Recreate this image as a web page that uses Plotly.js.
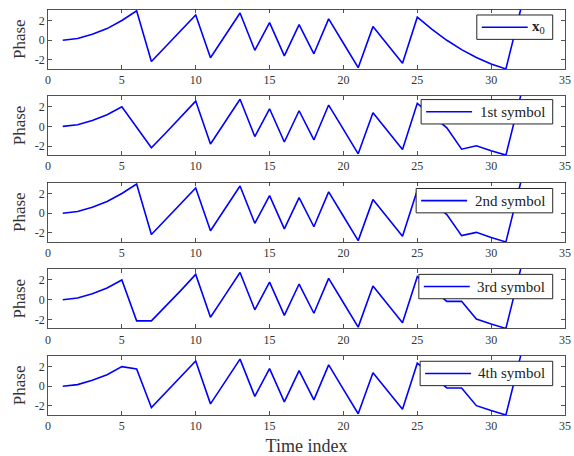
<!DOCTYPE html>
<html>
<head>
<meta charset="utf-8">
<script src="https://cdn.plot.ly/plotly-3.0.1.min.js"></script>
<style>html,body{margin:0;padding:0;background:#fff;}#chart{width:574px;height:456px;}</style>
</head>
<body>
<div id="chart"></div>
<script>
// ---- data ----
const timeIndex = [1,2,3,4,5,6,7,8,9,10,11,12,13,14,15,16,17,18,19,20,21,22,23,24,25,26,27,28,29,30,31,32];
const phaseX0   = [0,0.17,0.6,1.18,2.0,2.98,-2.17,-0.62,0.95,2.57,-1.79,0.49,2.76,-1.03,1.79,-1.59,1.59,-1.38,2.17,-0.31,-2.79,1.38,-0.48,-2.34,2.34,1.09,-0.01,-0.96,-1.76,-2.41,-2.92,3.12];
const phaseSym1 = [0,0.17,0.6,1.18,2.0,-0.06,-2.17,-0.62,0.95,2.57,-1.79,0.49,2.76,-1.03,1.79,-1.59,1.59,-1.38,2.17,-0.31,-2.79,1.38,-0.48,-2.34,2.34,1.09,-0.15,-2.32,-1.97,-2.47,-2.92,3.12];
const phaseSym2 = [0,0.17,0.6,1.18,2.0,2.96,-2.17,-0.62,0.95,2.57,-1.79,0.49,2.76,-1.03,1.79,-1.59,1.59,-1.38,2.17,-0.31,-2.79,1.38,-0.48,-2.34,2.34,1.09,-0.15,-2.28,-1.95,-2.47,-2.92,3.12];
const phaseSym3 = [0,0.17,0.6,1.18,2.0,-2.15,-2.15,-0.62,0.95,2.57,-1.79,0.49,2.76,-1.03,1.79,-1.59,1.59,-1.38,2.17,-0.31,-2.79,1.38,-0.48,-2.34,2.34,1.09,-0.17,-0.17,-1.97,-2.47,-2.92,3.12];
const phaseSym4 = [0,0.17,0.6,1.18,2.0,1.76,-2.17,-0.62,0.95,2.57,-1.79,0.49,2.76,-1.03,1.79,-1.59,1.59,-1.38,2.17,-0.31,-2.79,1.38,-0.48,-2.34,2.34,1.09,-0.17,-0.17,-1.97,-2.47,-2.92,3.12];
const seriesNames = ['<b>x</b><sub>0</sub>','1st symbol','2nd symbol','3rd symbol','4th symbol'];
const xTickVals = [0,5,10,15,20,25,30,35];
const yTickVals = [-2,0,2];
const yTickText = ['-2','0','2'];
const yTitle = 'Phase';
const xTitle = 'Time index';

// ---- layout ----
const W = 574, H = 456;
const mT = 9, mB = 40.5, mL = 47.5, mR = 9;
const PH = H - mT - mB, PW = W - mL - mR;
const FONT = 'Liberation Serif, Times New Roman, serif';
const AX = '#262626';
const BLUE = '#0000ff';
const allSeries = [phaseX0, phaseSym1, phaseSym2, phaseSym3, phaseSym4];
const tops = [9.5, 95.8, 182.7, 269.3, 356];
const panelH = 59.5;
const toPaperY = p => (H - mB - p) / PH;
const toPaperX = p => (p - mL) / PW;

// legend boxes (pixel layout)
const legLeft = [476.7, 421, 416, 418.7, 420];
const legRight = 552.7;
const legTop = [15, 99.7, 188.7, 274.7, 361.7];
const legH = 24.4;

const data = [];
const shapes = [];
const annotations = [];
const layout = {
  width: W, height: H,
  margin: {l: mL, r: mR, t: mT, b: mB, pad: 0},
  paper_bgcolor: '#fff', plot_bgcolor: '#fff',
  font: {family: FONT, color: AX},
  showlegend: false
};
allSeries.forEach((ys, k) => {
  const n = k === 0 ? '' : String(k + 1);
  data.push({
    x: timeIndex, y: ys, type: 'scatter', mode: 'lines',
    name: seriesNames[k],
    line: {color: BLUE, width: 1.6},
    xaxis: 'x' + n, yaxis: 'y' + n
  });
  const top = tops[k], bot = top + panelH;
  const xa = {
    domain: [0, 1], anchor: 'y' + n, range: [0, 35],
    tickvals: xTickVals, ticks: 'inside', ticklen: 4, tickwidth: 0.8, tickcolor: AX,
    mirror: 'ticks', showline: true, linecolor: AX, linewidth: 0.8,
    showgrid: false, zeroline: false,
    tickfont: {family: FONT, size: 12, color: '#333'}
  };
  if (k === 4) xa.title = {text: xTitle, font: {family: FONT, size: 18, color: '#333'}, standoff: 8};
  layout['xaxis' + n] = xa;
  layout['yaxis' + n] = {
    domain: [toPaperY(bot), toPaperY(top)], anchor: 'x' + n, range: [-2.92, 3.12],
    tickvals: yTickVals, ticktext: yTickText, ticks: 'inside', ticklen: 4, tickwidth: 0.8, tickcolor: AX,
    mirror: 'ticks', showline: true, linecolor: AX, linewidth: 0.8,
    showgrid: false, zeroline: false,
    tickfont: {family: FONT, size: 12, color: '#333'},
    title: {text: yTitle, font: {family: FONT, size: 17, color: '#333'}, standoff: 4}
  };
  // manual legend
  const lx0 = legLeft[k], ly0 = legTop[k], ly1 = ly0 + legH, lyc = (ly0 + ly1) / 2;
  shapes.push({type: 'rect', xref: 'paper', yref: 'paper', layer: 'above',
    x0: toPaperX(lx0), x1: toPaperX(legRight), y0: toPaperY(ly1), y1: toPaperY(ly0),
    line: {color: AX, width: 1}, fillcolor: '#fff'});
  shapes.push({type: 'line', xref: 'paper', yref: 'paper', layer: 'above',
    x0: toPaperX(lx0 + 5), x1: toPaperX(lx0 + 51), y0: toPaperY(lyc), y1: toPaperY(lyc),
    line: {color: BLUE, width: 1.6}});
  annotations.push({xref: 'paper', yref: 'paper', x: toPaperX(legRight - 6), y: toPaperY(lyc),
    xanchor: 'right', yanchor: 'middle', showarrow: false, text: seriesNames[k],
    font: {family: FONT, size: 15, color: '#222'}});
});
layout.shapes = shapes;
layout.annotations = annotations;

Plotly.newPlot('chart', data, layout, {displayModeBar: false, staticPlot: true});
</script>
</body>
</html>
